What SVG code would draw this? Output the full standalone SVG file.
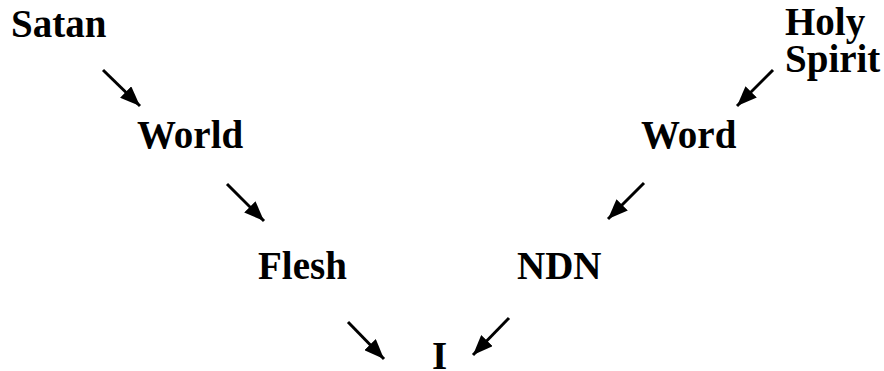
<svg xmlns="http://www.w3.org/2000/svg" width="884" height="371" viewBox="0 0 884 371">
<style>
.t{font-family:"Liberation Serif","Times New Roman",serif;font-weight:bold;font-size:39px;fill:#000}
.c line{stroke:#000;stroke-width:3;marker-end:url(#ah)}
</style>
<defs>
<marker id="ah" markerUnits="userSpaceOnUse" viewBox="0 0 20 16" refX="20" refY="8" markerWidth="20" markerHeight="16" orient="auto">
<path d="M0,0 L20,8 L0,16 Z" fill="#000"/>
</marker>
</defs>
<rect width="884" height="371" fill="#fff"/>
<g id="satan"><text class="t" x="11" y="37">Satan</text></g>
<g id="world"><text class="t" x="137" y="148">World</text></g>
<g id="flesh"><text class="t" x="258" y="279">Flesh</text></g>
<g id="holyspirit"><text class="t" x="785" y="35">Holy</text><text class="t" x="785" y="72">Spirit</text></g>
<g id="word"><text class="t" x="641" y="148">Word</text></g>
<g id="ndn"><text class="t" x="517" y="279">NDN</text></g>
<g id="i"><text class="t" x="432" y="369">I</text></g>
<g class="c" id="connectors">
<line x1="103" y1="70" x2="140" y2="106"/>
<line x1="773" y1="70" x2="737" y2="106"/>
<line x1="227" y1="184" x2="264" y2="221"/>
<line x1="644" y1="183" x2="608" y2="219"/>
<line x1="348" y1="322" x2="384" y2="359"/>
<line x1="509" y1="318" x2="473" y2="355"/>
</g>
</svg>
